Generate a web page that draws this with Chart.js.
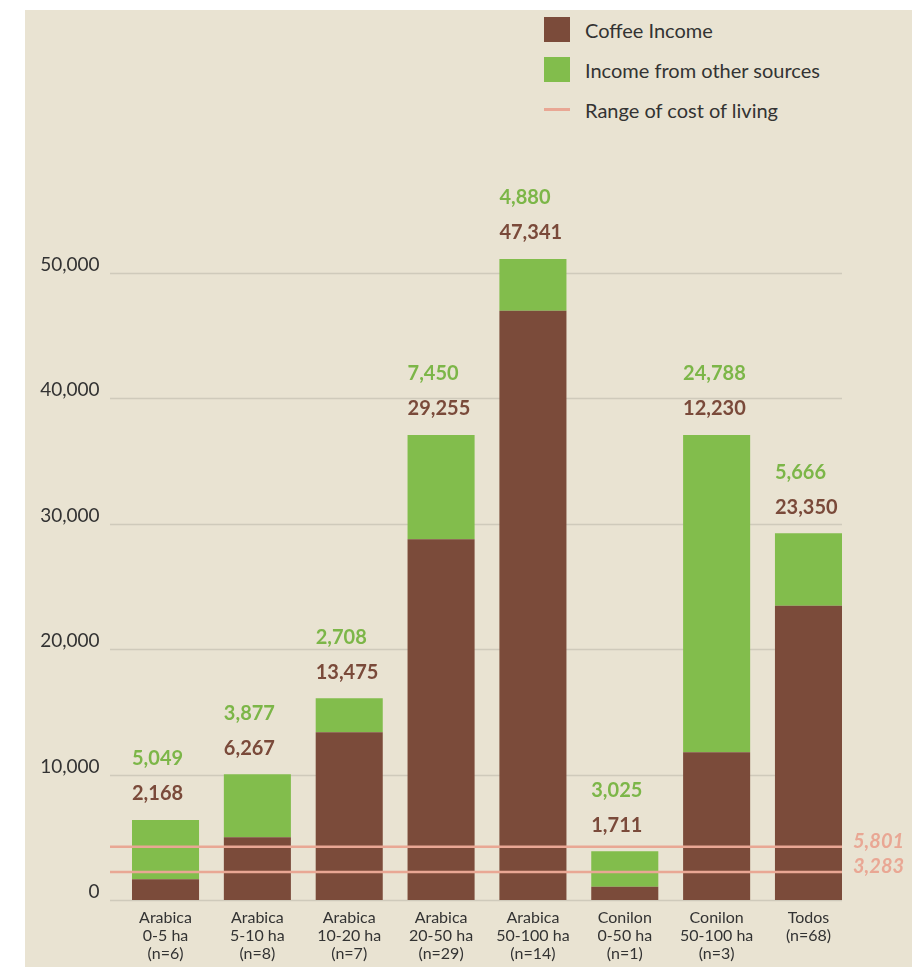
<!DOCTYPE html>
<html lang="en">
<head>
  <meta charset="UTF-8" />
  <title>Coffee income and cost of living</title>
  <script src="https://cdn.jsdelivr.net/npm/chart.js"></script>
  <style>
    body {
      margin: 0;
      background: #fff;
      font-family: 'Lato', sans-serif;
    }
    .panel {
      position: absolute;
      left: 25px;
      top: 10px;
      width: 887px;
      height: 957px;
      background: #e9e3d2;
    }
    .legend-item {
      position: absolute;
      left: 519px;
      height: 25px;
      display: flex;
      align-items: center;
      gap: 15px;
      font-size: 20px;
      color: #333;
      white-space: nowrap;
    }
    .swatch { width: 26px; height: 25px; }
    .dash { width: 26px; height: 3px; }
    canvas { position: absolute; left: 0; top: 0; }
  </style>
</head>
<body>
  <div class="panel">
    <div class="legend-item" style="top:7px"><span class="swatch" style="background:#7b4b3a"></span>Coffee Income</div>
    <div class="legend-item" style="top:47px"><span class="swatch" style="background:#82bd4c"></span>Income from other sources</div>
    <div class="legend-item" style="top:87px"><span class="dash" style="background:#e9a794"></span>Range of cost of living</div>
    <canvas id="incomeChart" width="887" height="957"></canvas>
  </div>

<script>
  // bar heights
  const categories = [
    ['Arabica', '0-5 ha', '(n=6)'],
    ['Arabica', '5-10 ha', '(n=8)'],
    ['Arabica', '10-20 ha', '(n=7)'],
    ['Arabica', '20-50 ha', '(n=29)'],
    ['Arabica', '50-100 ha', '(n=14)'],
    ['Conilon', '0-50 ha', '(n=1)'],
    ['Conilon', '50-100 ha', '(n=3)'],
    ['Todos', '(n=68)']
  ];
  const coffeeIncome = [1650, 5000, 13360, 28740, 46960, 1060, 11770, 23450];
  const otherIncome = [4725, 5015, 2710, 8310, 4115, 2820, 25280, 5770];

  // numbers printed above the bars
  const coffeeLabels = ['2,168', '6,267', '13,475', '29,255', '47,341', '1,711', '12,230', '23,350'];
  const otherLabels = ['5,049', '3,877', '2,708', '7,450', '4,880', '3,025', '24,788', '5,666'];

  // cost of living lines (drawn height) and their printed values
  const costLevels = [4250, 2230];
  const costLabels = ['5,801', '3,283'];

  const yTicks = [0, 10000, 20000, 30000, 40000, 50000];

  const BROWN = '#7b4b3a';
  const GREEN = '#82bd4c';
  const PINK = '#e9a794';

  const decorations = {
    id: 'decorations',
    beforeDatasetsDraw(chart) {
      const ctx = chart.ctx;
      const y = chart.scales.y;
      const bars = chart.getDatasetMeta(0).data;
      const left = bars[0].x - bars[0].width / 2 - 22;
      const last = bars[bars.length - 1];
      const right = last.x + last.width / 2;
      ctx.save();
      ctx.strokeStyle = 'rgba(0,0,0,0.11)';
      ctx.lineWidth = 1.5;
      yTicks.forEach(v => {
        const py = Math.round(y.getPixelForValue(v)) + 0.5;
        ctx.beginPath();
        ctx.moveTo(left, py);
        ctx.lineTo(right, py);
        ctx.stroke();
      });
      ctx.restore();
    },
    afterDatasetsDraw(chart) {
      const ctx = chart.ctx;
      const y = chart.scales.y;
      const bars = chart.getDatasetMeta(0).data;
      const left = bars[0].x - bars[0].width / 2 - 22;
      const last = bars[bars.length - 1];
      const right = last.x + last.width / 2;
      ctx.save();

      // cost of living range
      ctx.strokeStyle = PINK;
      ctx.lineWidth = 2.5;
      ctx.font = 'italic bold 20px Lato';
      ctx.fillStyle = PINK;
      ctx.textAlign = 'left';
      ctx.textBaseline = 'middle';
      costLevels.forEach((v, i) => {
        const py = y.getPixelForValue(v);
        ctx.beginPath();
        ctx.moveTo(left, py);
        ctx.lineTo(right, py);
        ctx.stroke();
        ctx.fillText(costLabels[i], right + 11, py - 5);
      });

      // value labels above each stack
      ctx.font = 'bold 20px Lato';
      bars.forEach((bar, i) => {
        const top = y.getPixelForValue(coffeeIncome[i] + otherIncome[i]);
        const x = bar.x - bar.width / 2;
        ctx.fillStyle = '#7a4a3a';
        ctx.fillText(coffeeLabels[i], x, top - 26);
        ctx.fillStyle = '#7cb648';
        ctx.fillText(otherLabels[i], x, top - 61);
      });
      ctx.restore();
    }
  };

  const chart = new Chart(document.getElementById('incomeChart'), {
    type: 'bar',
    data: {
      labels: categories,
      datasets: [
        {
          label: 'Coffee Income',
          data: coffeeIncome,
          backgroundColor: BROWN,
          barPercentage: 0.73,
          categoryPercentage: 1,
          clip: false
        },
        {
          label: 'Income from other sources',
          data: otherIncome,
          backgroundColor: GREEN,
          barPercentage: 0.73,
          categoryPercentage: 1,
          clip: false
        }
      ]
    },
    options: {
      responsive: false,
      animation: false,
      layout: { padding: { top: 262.5, right: 57.6, left: 0, bottom: 0 } },
      plugins: {
        legend: { display: false },
        tooltip: { enabled: false }
      },
      scales: {
        x: {
          stacked: true,
          grid: { display: false, drawTicks: false },
          border: { display: false },
          ticks: {
            color: '#333',
            font: { family: 'Lato', size: 16, lineHeight: 1.12 },
            padding: 9,
            maxRotation: 0,
            autoSkip: false
          },
          afterFit: s => { s.height = 67; }
        },
        y: {
          stacked: true,
          min: 0,
          max: 50000,
          grid: { display: false, drawTicks: false },
          border: { display: false },
          ticks: {
            stepSize: 10000,
            color: '#333',
            font: { family: 'Lato', size: 19 },
            padding: 20,
            labelOffset: -8,
            callback: v => v.toLocaleString('en-US')
          },
          afterFit: s => { s.width = 94.6; }
        }
      }
    },
    plugins: [decorations]
  });
</script>
</body>
</html>
